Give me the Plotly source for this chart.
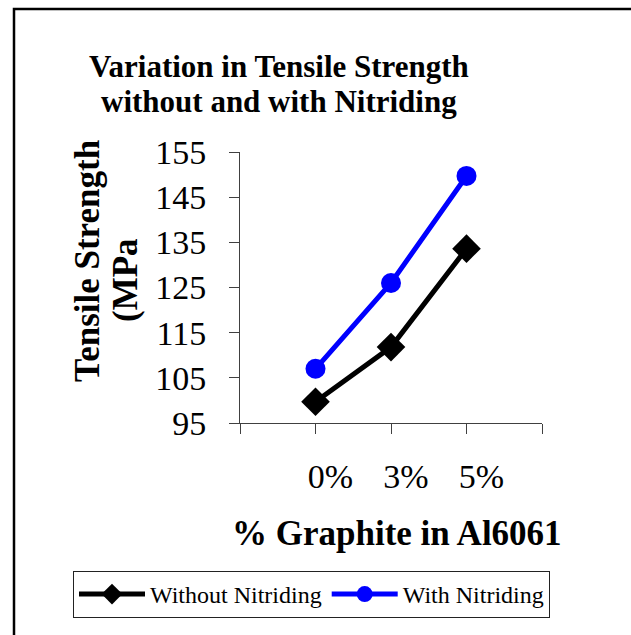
import plotly.graph_objects as go

categories = ["0%", "3%", "5%"]
without_nitriding = [99.7, 111.8, 133.6]
with_nitriding = [107.0, 126.0, 149.7]
y_ticks = [95, 105, 115, 125, 135, 145, 155]

W, H = 631, 635
L, R, T, B = 240, 89, 152, 212
pw, ph = W - L - R, H - T - B

def px(x):
    return (x - L) / pw

def py(y):
    return (H - B - y) / ph

FONT = "Liberation Serif"
xpos = list(range(len(categories)))

fig = go.Figure()
fig.add_trace(go.Scatter(
    x=xpos, y=without_nitriding, name="Without Nitriding", mode="lines+markers",
    line=dict(color="black", width=5),
    marker=dict(symbol="diamond", size=22, color="black"),
))
fig.add_trace(go.Scatter(
    x=xpos, y=with_nitriding, name="With Nitriding", mode="lines+markers",
    line=dict(color="#0000FF", width=5),
    marker=dict(symbol="circle", size=20, color="#0000FF"),
))

fig.update_xaxes(
    range=[-1, len(categories)], tickmode="array",
    tickvals=[-1] + xpos + [len(categories)],
    ticktext=[""] + categories + [""],
    ticks="outside", ticklen=10, tickcolor="#404040", tickwidth=1,
    showline=True, linecolor="#404040", linewidth=1,
    showgrid=False, zeroline=False, automargin=False,
    tickfont=dict(family=FONT, size=34, color="black"),
    ticklabelshift=15, ticklabelstandoff=13,
)
fig.update_yaxes(
    range=[95, 155], tickmode="array", tickvals=y_ticks,
    ticks="outside", ticklen=10, tickcolor="#404040", tickwidth=1,
    showline=True, linecolor="#404040", linewidth=1,
    showgrid=False, zeroline=False, automargin=False,
    tickfont=dict(family=FONT, size=34, color="black"),
    ticklabelstandoff=16,
)

annos = [
    dict(text="<b>Variation in Tensile Strength</b>", x=px(279), y=py(66), size=31),
    dict(text="<b>without and with Nitriding</b>", x=px(279), y=py(101), size=31),
    dict(text="<b>% Graphite in Al6061</b>", x=px(397), y=py(533), size=35),
]
for a in annos:
    fig.add_annotation(text=a["text"], x=a["x"], y=a["y"], xref="paper", yref="paper",
                       xanchor="center", yanchor="middle", showarrow=False,
                       font=dict(family=FONT, size=a["size"], color="black"))
fig.add_annotation(text="<b>Tensile Strength</b>", x=px(87), y=py(261), xref="paper", yref="paper",
                   xanchor="center", yanchor="middle", showarrow=False, textangle=-90,
                   font=dict(family=FONT, size=35, color="black"))
fig.add_annotation(text="<b>(MPa</b>", x=px(125), y=py(280), xref="paper", yref="paper",
                   xanchor="center", yanchor="middle", showarrow=False, textangle=-90,
                   font=dict(family=FONT, size=35, color="black"))

# outer frame
fig.add_shape(type="rect", xref="paper", yref="paper",
              x0=px(14), x1=px(650), y0=py(9), y1=py(650),
              line=dict(color="black", width=2.5), layer="below")

fig.update_layout(
    width=W, height=H,
    margin=dict(l=L, r=R, t=T, b=B, autoexpand=False),
    paper_bgcolor="white", plot_bgcolor="white",
    showlegend=True,
    legend=dict(orientation="h", x=px(73), y=py(571), xanchor="left", yanchor="top",
                bordercolor="#222222", borderwidth=1, bgcolor="white",
                font=dict(family=FONT, size=24, color="black"),
                itemwidth=66, tracegroupgap=0),
)

fig.write_html("out.html")
